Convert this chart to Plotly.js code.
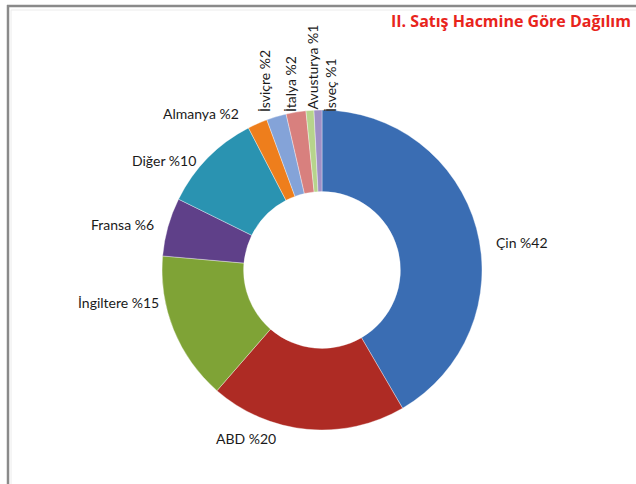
<!DOCTYPE html>
<html><head><meta charset="utf-8">
<script src="https://cdn.plot.ly/plotly-3.0.1.min.js"></script>
<style>html,body{margin:0;padding:0;background:#fff;}#chart{width:636px;height:484px;}</style>
</head><body><div id="chart"></div>
<script>
const categories = ["Çin","ABD","İngiltere","Fransa","Diğer","Almanya","İsviçre","İtalya","Avusturya","İsveç"];
const shares = [41.6,19.8,15.0,5.9,10.1,2.0,2.0,2.0,0.8,0.8];
const shownPercent = [42,20,15,6,10,2,2,2,1,1];
const colors = ["#3a6db3","#ae2b24","#7fa336","#5f4089","#2a93b1","#ee7e1c","#84a3d8","#d8807e","#b7d48c","#9f90c6"];

const W = 636, H = 484;
const px = x => x / W, py = y => 1 - y / H;
const cx = 322, cy = 270, R = 160;

// label placement (layout only)
const labelPos = [
  {x:494,y:242,xa:'left',ya:'middle',a:0},
  {x:246,y:438,xa:'center',ya:'middle',a:0},
  {x:161,y:302,xa:'right',ya:'middle',a:0},
  {x:156,y:224,xa:'right',ya:'middle',a:0},
  {x:198,y:160,xa:'right',ya:'middle',a:0},
  {x:241,y:113,xa:'right',ya:'middle',a:0},
  {x:264,y:114,xa:'center',ya:'bottom',a:-90},
  {x:290,y:114,xa:'center',ya:'bottom',a:-90},
  {x:312,y:112,xa:'center',ya:'bottom',a:-90},
  {x:330,y:114,xa:'center',ya:'bottom',a:-90}
];

const annotations = categories.map((c,i)=>({
  text: c + " %" + shownPercent[i],
  xref:'paper', yref:'paper',
  x: px(labelPos[i].x), y: py(labelPos[i].y),
  xanchor: labelPos[i].xa, yanchor: labelPos[i].ya,
  textangle: labelPos[i].a,
  showarrow:false,
  font:{family:'Lato, "Open Sans", sans-serif', size:14, color:'#1a1a1a'}
}));
annotations.push({
  text:'<b>II. Satış Hacmine Göre Dağılım</b>',
  xref:'paper', yref:'paper', x:px(389), y:py(21), xanchor:'left', yanchor:'middle',
  showarrow:false,
  font:{family:'"Open Sans", Lato, sans-serif', size:16, color:'#e8241c'}
});

const trace = {
  type:'pie',
  labels: categories,
  values: shares,
  sort:false,
  direction:'clockwise',
  rotation:0,
  hole:0.49,
  textinfo:'none',
  hoverinfo:'label+percent',
  marker:{colors:colors, line:{color:'rgba(255,255,255,0.6)', width:0.6}},
  domain:{x:[px(cx-R), px(cx+R)], y:[py(cy+R), py(cy-R)]},
  showlegend:false
};

const layout = {
  width:W, height:H,
  margin:{l:0,r:0,t:0,b:0},
  paper_bgcolor:'#ffffff',
  showlegend:false,
  annotations: annotations,
  shapes:[
    {type:'line', xref:'paper', yref:'paper', x0:px(8), x1:px(8), y0:py(5), y1:py(490), line:{color:'#8a8a8a', width:2.5}},
    {type:'line', xref:'paper', yref:'paper', x0:px(7), x1:px(640), y0:py(6), y1:py(6), line:{color:'#8a8a8a', width:2.5}},
    {type:'line', xref:'paper', yref:'paper', x0:px(11), x1:px(11), y0:py(10), y1:py(490), line:{color:'#ececec', width:1}},
    {type:'line', xref:'paper', yref:'paper', x0:px(11), x1:px(640), y0:py(10), y1:py(10), line:{color:'#ececec', width:1}}
  ]
};

Plotly.newPlot('chart',[trace],layout,{displayModeBar:false, staticPlot:true});
</script>
</body></html>
